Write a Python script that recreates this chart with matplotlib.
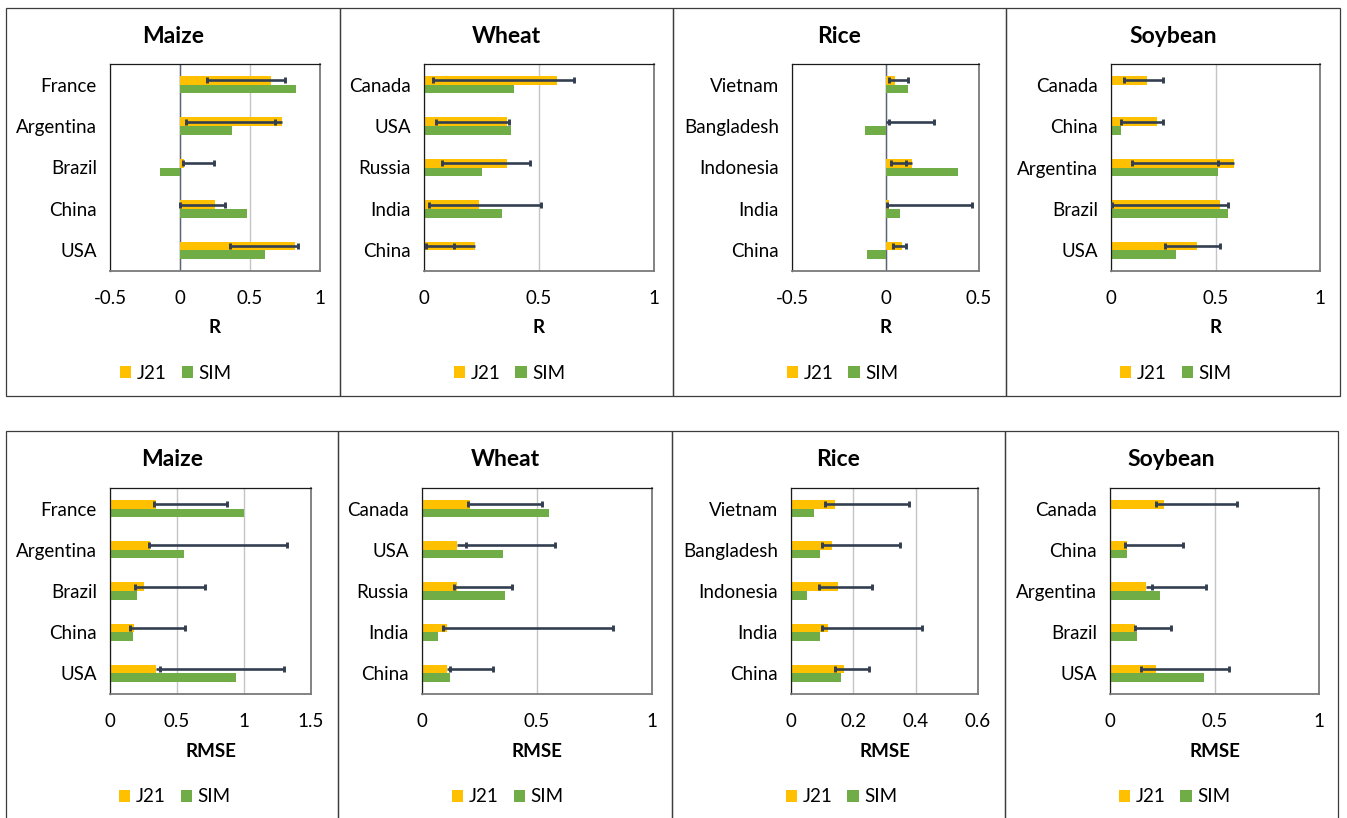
import matplotlib
matplotlib.use("Agg")
import matplotlib.pyplot as plt
from matplotlib.patches import Rectangle, Patch
import numpy as np

plt.rcParams["font.family"] = ["Lato", "DejaVu Sans"]

# ---------------- data ----------------
maize_countries = ["France", "Argentina", "Brazil", "China", "USA"]
wheat_countries = ["Canada", "USA", "Russia", "India", "China"]
rice_countries = ["Vietnam", "Bangladesh", "Indonesia", "India", "China"]
soy_countries = ["Canada", "China", "Argentina", "Brazil", "USA"]

# correlation (R)
maize_r_j21 = [0.65, 0.73, 0.03, 0.25, 0.82]
maize_r_sim = [0.83, 0.37, -0.14, 0.48, 0.61]
maize_r_lo = [0.19, 0.04, 0.02, 0.00, 0.36]
maize_r_hi = [0.75, 0.68, 0.24, 0.32, 0.84]

wheat_r_j21 = [0.58, 0.36, 0.36, 0.24, 0.22]
wheat_r_sim = [0.39, 0.38, 0.25, 0.34, 0.005]
wheat_r_lo = [0.04, 0.05, 0.08, 0.02, 0.01]
wheat_r_hi = [0.65, 0.37, 0.46, 0.51, 0.13]

rice_r_j21 = [0.05, 0.00, 0.14, 0.02, 0.09]
rice_r_sim = [0.12, -0.11, 0.39, 0.08, -0.10]
rice_r_lo = [0.02, 0.02, 0.03, 0.01, 0.04]
rice_r_hi = [0.12, 0.26, 0.11, 0.46, 0.11]

soy_r_j21 = [0.17, 0.22, 0.59, 0.52, 0.41]
soy_r_sim = [0.00, 0.05, 0.51, 0.56, 0.31]
soy_r_lo = [0.06, 0.05, 0.10, 0.005, 0.26]
soy_r_hi = [0.25, 0.25, 0.51, 0.56, 0.52]

# root mean square error (RMSE)
maize_rmse_j21 = [0.34, 0.30, 0.25, 0.18, 0.34]
maize_rmse_sim = [1.00, 0.55, 0.20, 0.17, 0.94]
maize_rmse_lo = [0.33, 0.29, 0.19, 0.15, 0.37]
maize_rmse_hi = [0.87, 1.32, 0.71, 0.56, 1.30]

wheat_rmse_j21 = [0.21, 0.15, 0.15, 0.11, 0.11]
wheat_rmse_sim = [0.55, 0.35, 0.36, 0.07, 0.12]
wheat_rmse_lo = [0.20, 0.19, 0.14, 0.09, 0.12]
wheat_rmse_hi = [0.52, 0.58, 0.39, 0.83, 0.31]

rice_rmse_j21 = [0.14, 0.13, 0.15, 0.12, 0.17]
rice_rmse_sim = [0.075, 0.094, 0.051, 0.092, 0.16]
rice_rmse_lo = [0.11, 0.10, 0.09, 0.10, 0.14]
rice_rmse_hi = [0.38, 0.35, 0.26, 0.42, 0.25]

soy_rmse_j21 = [0.26, 0.08, 0.17, 0.12, 0.22]
soy_rmse_sim = [0.00, 0.08, 0.24, 0.13, 0.45]
soy_rmse_lo = [0.22, 0.07, 0.20, 0.12, 0.15]
soy_rmse_hi = [0.61, 0.35, 0.46, 0.29, 0.57]

crop_titles = ["Maize", "Wheat", "Rice", "Soybean"]
series_names = ["J21", "SIM"]
r_ticks = [[-0.5, 0, 0.5, 1], [0, 0.5, 1], [-0.5, 0, 0.5], [0, 0.5, 1]]
rmse_ticks = [[0, 0.5, 1, 1.5], [0, 0.5, 1], [0, 0.2, 0.4, 0.6], [0, 0.5, 1]]

# ---------------- style ----------------
W, H = 1347, 818
C_J21 = "#FFC000"
C_SIM = "#70AD47"
C_ERR = "#333F50"
C_GRID = "#C4C4C4"
C_ZERO = "#5A6475"
C_TEXT = "#000000"
FS_TICK = 13.5
FS_TITLE = 16.5

fig = plt.figure(figsize=(W / 100, H / 100), dpi=100)
fig.patch.set_facecolor("white")


def fx(x):
    return x / W


def fy(y):
    return 1 - y / H


rows = [
    dict(
        label="R", y0=8, y1=396, py=(64, 271), dy=0,
        edges=[6, 340, 673, 1006, 1340],
        px=[(110, 320), (424, 654), (792, 979), (1111, 1320)],
        ticks=r_ticks,
        data=[
            (maize_countries, maize_r_j21, maize_r_sim, maize_r_lo, maize_r_hi),
            (wheat_countries, wheat_r_j21, wheat_r_sim, wheat_r_lo, wheat_r_hi),
            (rice_countries, rice_r_j21, rice_r_sim, rice_r_lo, rice_r_hi),
            (soy_countries, soy_r_j21, soy_r_sim, soy_r_lo, soy_r_hi),
        ],
    ),
    dict(
        label="RMSE", y0=431, y1=822, py=(488, 694), dy=423.5,
        edges=[6, 338, 672, 1005, 1338],
        px=[(110, 311), (422, 652), (791, 978), (1110, 1319)],
        ticks=rmse_ticks,
        data=[
            (maize_countries, maize_rmse_j21, maize_rmse_sim, maize_rmse_lo, maize_rmse_hi),
            (wheat_countries, wheat_rmse_j21, wheat_rmse_sim, wheat_rmse_lo, wheat_rmse_hi),
            (rice_countries, rice_rmse_j21, rice_rmse_sim, rice_rmse_lo, rice_rmse_hi),
            (soy_countries, soy_rmse_j21, soy_rmse_sim, soy_rmse_lo, soy_rmse_hi),
        ],
    ),
]

bar_h = 0.21

for row in rows:
    dy = row["dy"]
    for k in range(4):
        bx0, bx1 = row["edges"][k], row["edges"][k + 1]
        # panel frame
        fig.add_artist(Rectangle((fx(bx0), fy(row["y1"])), fx(bx1 - bx0),
                                 (row["y1"] - row["y0"]) / H,
                                 transform=fig.transFigure, fill=False,
                                 edgecolor="#3C3C3C", linewidth=0.9))
        cx = (bx0 + bx1) / 2
        fig.text(fx(cx), fy(42.7 + dy), crop_titles[k], ha="center",
                 va="baseline", fontsize=FS_TITLE, fontweight="bold", color=C_TEXT)

        x0, x1 = row["px"][k]
        y0, y1 = row["py"]
        ax = fig.add_axes([fx(x0), fy(y1), fx(x1 - x0), (y1 - y0) / H])
        countries, j21, sim, lo, hi = row["data"][k]
        j21 = np.asarray(j21, float)
        sim = np.asarray(sim, float)
        lo = np.asarray(lo, float)
        hi = np.asarray(hi, float)
        pos = np.arange(len(countries))

        ax.barh(pos - bar_h / 2, j21, height=bar_h, color=C_J21, zorder=2)
        ax.barh(pos + bar_h / 2, sim, height=bar_h, color=C_SIM, zorder=2)

        # error range drawn from the J21 bar end to each limit
        yb = pos - bar_h / 2
        left = np.minimum(np.minimum(j21, lo), hi)
        right = np.maximum(np.maximum(j21, lo), hi)
        ax.hlines(yb, left, right, color=C_ERR, linewidth=1.9, zorder=4)
        ax.plot(np.concatenate([lo, hi]), np.concatenate([yb, yb]), ls="none",
                marker="|", markersize=4.8, markeredgewidth=2.1, color=C_ERR, zorder=5)

        ticks = row["ticks"][k]
        ax.set_xlim(ticks[0], ticks[-1])
        ax.set_xticks(ticks)
        ax.set_xticklabels([f"{t:g}" for t in ticks])
        ax.set_ylim(len(countries) - 0.5, -0.5)
        ax.set_yticks(pos)
        ax.set_yticklabels(countries)
        ax.tick_params(axis="both", length=0, labelsize=FS_TICK, colors=C_TEXT)
        ax.tick_params(axis="x", pad=14.0)
        ax.tick_params(axis="y", pad=9.5)

        ax.set_axisbelow(True)
        ax.grid(axis="x", color=C_GRID, linewidth=1.0, zorder=0)
        ax.grid(axis="y", visible=False)
        if ticks[0] < 0:
            ax.axvline(0, color=C_ZERO, linewidth=1.0, zorder=1)

        for side in ("top", "left"):
            ax.spines[side].set_color("#1A1A1A")
            ax.spines[side].set_linewidth(0.9)
        for side in ("right", "bottom"):
            ax.spines[side].set_color("#7A7A7A")
            ax.spines[side].set_linewidth(1.3)

        fig.text(fx((x0 + x1) / 2), fy(333.3 + dy), row["label"], ha="center",
                 va="baseline", fontsize=FS_TICK, fontweight="bold", color=C_TEXT)

        handles = [Patch(facecolor=C_J21, edgecolor="none"),
                   Patch(facecolor=C_SIM, edgecolor="none")]
        fig.legend(handles, series_names, loc="center",
                   bbox_to_anchor=(fx(cx + 3), fy(373.5 + dy)), ncol=2,
                   frameon=False, fontsize=FS_TICK, handlelength=0.6,
                   handleheight=0.6, handletextpad=0.3, columnspacing=0.8,
                   borderpad=0, borderaxespad=0)

fig.savefig("out.png", dpi=100, facecolor="white")
